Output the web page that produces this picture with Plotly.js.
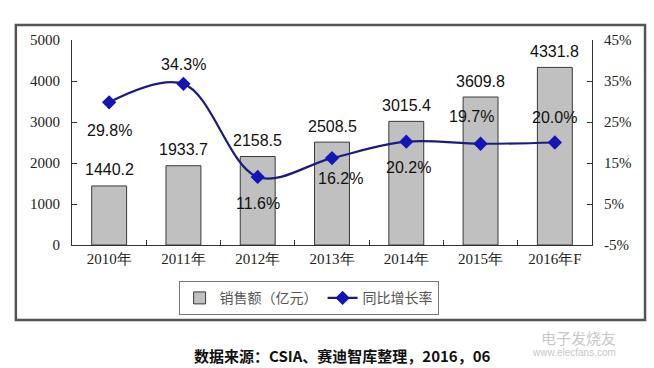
<!DOCTYPE html>
<html><head><meta charset="utf-8">
<script src="https://cdn.plot.ly/plotly-3.0.1.min.js"></script>
<style>body{margin:0;background:#fff}#c{width:654px;height:368px}</style>
</head><body><div id="c"></div>
<script>
const years = ["2010年","2011年","2012年","2013年","2014年","2015年","2016年F"];
const sales = [1440.2, 1933.7, 2158.5, 2508.5, 3015.4, 3609.8, 4331.8];
const growth = [29.8, 34.3, 11.6, 16.2, 20.2, 19.7, 20.0];
const growthLabels = ["29.8%","34.3%","11.6%","16.2%","20.2%","19.7%","20.0%"];
const salesName = "销售额（亿元）";
const growthName = "同比增长率";
const source = "数据来源：CSIA、赛迪智库整理，2016，06";

// label placement relative to each point (pixels)
const labelShiftY = [-28, 19, -27, -20, -26, 27, 25];
const labelShiftX = [0, 0, 0, 8, 2, -9, 0];

const labelFont = {family: "Liberation Sans, Arial, sans-serif", size: 16, color: "#111"};

const bars = {
  type: "bar", x: years, y: sales, name: salesName,
  marker: {color: "#c0c0c0", line: {color: "#3a3a3a", width: 1}},
  width: 0.47
};
const line = {
  type: "scatter", mode: "lines+markers", x: years, y: growth, yaxis: "y2",
  name: growthName,
  line: {color: "#1c1c80", width: 2.2, shape: "spline", smoothing: 1},
  marker: {symbol: "diamond", size: 11, color: "#1515b5"}
};

const annotations = growth.map((g, i) => ({
  x: years[i], y: g, xref: "x", yref: "y2", text: growthLabels[i],
  showarrow: false, yshift: labelShiftY[i], xshift: labelShiftX[i], font: labelFont
}));
sales.forEach((v, i) => annotations.push({
  x: years[i], y: v, xref: "x", yref: "y", text: v.toFixed(1),
  showarrow: false, yshift: 16, font: labelFont
}));
annotations.push({
  xref: "paper", yref: "paper", x: 0.52, y: -0.54, yanchor: "middle", text: "<b>" + source + "</b>",
  showarrow: false, font: {family: "Noto Sans CJK SC", size: 15, color: "#111"}
});
annotations.push({
  xref: "paper", yref: "paper", x: 1.05, y: -0.45, yanchor: "middle", text: "电子发烧友",
  showarrow: false, font: {family: "Noto Sans CJK SC", size: 15, color: "#c8c8c8"}
});
annotations.push({
  xref: "paper", yref: "paper", x: 1.05, y: -0.525, yanchor: "middle", text: "www.elecfans.com",
  showarrow: false, font: {family: "Liberation Sans", size: 10, color: "#c8c8c8"}
});

const tickFont = {family: "Liberation Serif, Times New Roman, serif", size: 15, color: "#222"};

const layout = {
  width: 654, height: 368,
  margin: {l: 72, r: 62, t: 40, b: 123},
  paper_bgcolor: "#fff", plot_bgcolor: "#fff",
  showlegend: true,
  legend: {orientation: "h", x: 0.455, y: -0.26, xanchor: "center", yanchor: "middle",
    bordercolor: "#777", borderwidth: 1, font: {family: "Noto Sans CJK SC", size: 14, color: "#555"}},
  xaxis: {type: "category", tickfont: tickFont, showline: true, linecolor: "#333", linewidth: 1,
    ticks: "inside", tickson: "boundaries", ticklen: 5, tickcolor: "#333", showgrid: false},
  yaxis: {range: [0, 5000], tickvals: [0,1000,2000,3000,4000,5000], tickfont: tickFont,
    showline: true, linecolor: "#333", ticks: "inside", ticklen: 5, tickcolor: "#333",
    showgrid: false, zeroline: false, ticklabelstandoff: 8},
  yaxis2: {overlaying: "y", side: "right", range: [-5, 45], tickvals: [-5,5,15,25,35,45],
    ticktext: ["-5%","5%","15%","25%","35%","45%"], tickfont: tickFont,
    showline: true, linecolor: "#333", ticks: "inside", ticklen: 5, tickcolor: "#333",
    showgrid: false, zeroline: false, ticklabelstandoff: 8},
  annotations: annotations,
  shapes: [{type: "rect", xref: "paper", yref: "paper", x0: -0.108, x1: 1.102, y0: -0.366, y1: 1.073,
    line: {color: "#555", width: 2.5}, fillcolor: "rgba(0,0,0,0)"}],
  bargap: 0.5
};
Plotly.newPlot("c", [bars, line], layout, {displayModeBar: false, staticPlot: true});
</script></body></html>
